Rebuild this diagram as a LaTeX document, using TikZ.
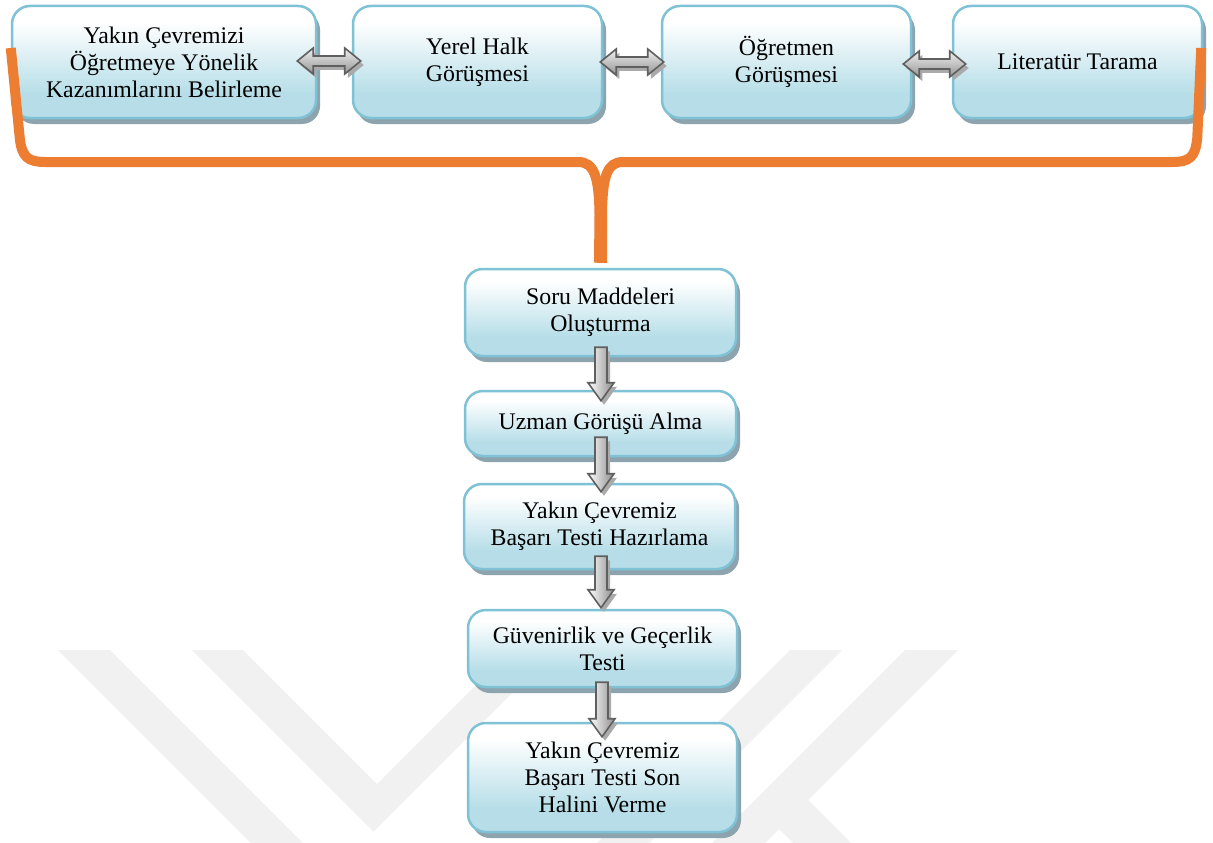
\documentclass[tikz,border=0pt]{standalone}
\usepackage{fontspec}
\setmainfont{Liberation Serif}
\usetikzlibrary{calc,shadows}
\definecolor{boxblue}{RGB}{183,222,232}
\definecolor{boxborder}{RGB}{127,194,213}
\definecolor{shadowc}{RGB}{141,163,173}
\definecolor{orangec}{RGB}{237,125,49}
\definecolor{arrowborder}{RGB}{95,95,95}
\definecolor{arrowshadow}{RGB}{170,170,170}
\definecolor{wmark}{RGB}{241,241,241}
\pgfdeclareverticalshading{boxshade}{100bp}{color(0bp)=(boxblue); color(25bp)=(boxblue); color(36bp)=(boxblue); color(68bp)=(white); color(100bp)=(white)}
\tikzset{
  box/.style={draw=boxborder, line width=2.5pt, rounded corners=18pt, shade, shading=boxshade,
    drop shadow={shadow xshift=4pt, shadow yshift=-6pt, fill=shadowc, opacity=1},
    align=center, font=\fontsize{23.8}{27}\selectfont, inner sep=0pt, text=black},
  blkarrow/.style={draw=arrowborder, line width=1.6pt, line join=miter,
    preaction={fill=arrowshadow, transform canvas={xshift=3pt,yshift=-4pt}}},
  downshade/.style={left color=white, right color=black!45},
  hshade/.style={top color=black!6, bottom color=black!42},
  brace/.style={draw=orangec, line width=10pt, line cap=butt, line join=round},
  wm/.style={fill=wmark}
}
\newcommand{\blkdown}[2]{%
  \path[blkarrow,downshade] let \p1=(#1), \p2=(#2) in
    (\x1-6pt,\y1) -- (\x1+6pt,\y1) -- (\x1+6pt,\y2+18pt) -- (\x1+13pt,\y2+18pt)
    -- (\x1,\y2) -- (\x1-13pt,\y2+18pt) -- (\x1-6pt,\y2+18pt) -- cycle;}
\newcommand{\blkdouble}[2]{%
  \path[blkarrow,hshade] let \p1=(#1), \p2=(#2) in
    (\x1,\y1) -- (\x1+16pt,\y1+13pt) -- (\x1+16pt,\y1+5pt) -- (\x2-16pt,\y1+5pt)
    -- (\x2-16pt,\y1+13pt) -- (\x2,\y1) -- (\x2-16pt,\y1-13pt) -- (\x2-16pt,\y1-5pt)
    -- (\x1+16pt,\y1-5pt) -- (\x1+16pt,\y1-13pt) -- cycle;}
\begin{document}
\begin{tikzpicture}[x=1pt,y=-1pt]
\fill[white] (0,0) rectangle (1213,843);
\useasboundingbox (0,0) rectangle (1213,843);
% watermark
\begin{scope}
\clip (0,650) rectangle (1213,843);
\fill[wm] (58,650) -- (110,650) -- (303,843) -- (251,843) -- cycle;
\fill[wm] (192,650) -- (243,650) -- (377,784) -- (511,650) -- (555,650) -- (373.5,831.5) -- cycle;
\fill[wm] (790,650) -- (842,650) -- (649,843) -- (597,843) -- cycle;
\fill[wm] (905,650) -- (958,650) -- (765,843) -- (712,843) -- cycle;
\fill[wm] (779,829) -- (808,800) -- (851,843) -- (793,843) -- cycle;
\end{scope}
% top boxes
\node[box, minimum width=304pt, minimum height=112pt] (b1) at (164,62) {Yakın Çevremizi\\Öğretmeye Yönelik\\Kazanımlarını Belirleme};
\node[box, minimum width=249pt, minimum height=112pt] (b2) at (477.5,62) {Yerel Halk\\Görüşmesi};
\node[box, minimum width=249pt, minimum height=112pt] (b3) at (786.5,62) {Öğretmen\\Görüşmesi};
\node[box, minimum width=249pt, minimum height=112pt] (b4) at (1077.5,62) {Literatür Tarama};
% column boxes
\node[box, minimum width=271pt, minimum height=87pt] (s1) at (600.5,312.5) {Soru Maddeleri\\Oluşturma};
\node[box, minimum width=271pt, minimum height=65pt] (s2) at (600.5,423.5) {Uzman Görüşü Alma};
\node[box, minimum width=271pt, minimum height=85pt] (s3) at (599.5,526.5) {Yakın Çevremiz\\Başarı Testi Hazırlama};
\node[box, minimum width=269pt, minimum height=77pt] (s4) at (602.5,648.5) {Güvenirlik ve Geçerlik\\Testi};
\node[box, minimum width=269pt, minimum height=109pt] (s5) at (602.5,777.5) {Yakın Çevremiz\\Başarı Testi Son\\Halini Verme};
% horizontal double arrows
\blkdouble{$(b1.east)+(-20,-1)$}{$(b2.west)+(9,-1)$}
\blkdouble{$(b2.east)+(-3,0)$}{$(b3.west)+(3,0)$}
\blkdouble{$(b3.east)+(-9,2)$}{$(b4.west)+(14,2)$}
% down arrows
\blkdown{$(s1.south)+(0.5,-10)$}{$(s2.north)+(0,11)$}
\blkdown{$(s2.south)+(0.5,-20)$}{$(s3.north)+(0,9)$}
\blkdown{$(s3.south)+(1.5,-14)$}{$(s4.north)+(0,-1)$}
\blkdown{$(s4.south)+(-0.5,-6)$}{$(s5.north)+(0,15)$}
% orange brace
\coordinate (bl) at ($(b1.west)+(0,-14)$);
\coordinate (br) at ($(b4.east)+(-2,-14)$);
\coordinate (st) at ($(s1.north)+(0,-5)$);
\draw[brace] (bl) -- ++(9,90) .. controls ++(2,19) and (28,162) .. (45,162) -- (578,162)
  .. controls (594,162) and (599,176) .. (599.5,215) -- ($(st)+(-1.5,0)$);
\draw[brace] (br) -- ++(-4,90) .. controls ++(-2,19) and (1190,162) .. (1172,162) -- (623,162)
  .. controls (607,162) and (602.5,176) .. (602,215) -- ($(st)+(1.5,0)$);
\end{tikzpicture}
\end{document}
